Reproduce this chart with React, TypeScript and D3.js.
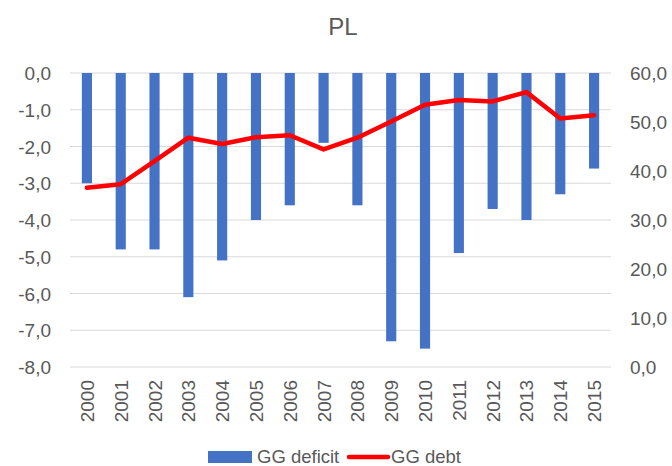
import React from "react";
import * as d3 from "d3";

const years = ["2000","2001","2002","2003","2004","2005","2006","2007","2008","2009","2010","2011","2012","2013","2014","2015"];
const ggDeficit = [-3.0,-4.8,-4.8,-6.1,-5.1,-4.0,-3.6,-1.9,-3.6,-7.3,-7.5,-4.9,-3.7,-4.0,-3.3,-2.6];
const ggDebt = [36.6,37.3,42.0,46.8,45.5,46.9,47.3,44.4,46.8,50.1,53.5,54.5,54.2,56.1,50.7,51.4];
const leftTicks = [0,-1,-2,-3,-4,-5,-6,-7,-8];
const rightTicks = [0,10,20,30,40,50,60];
const title = "PL";
const seriesNames = ["GG deficit", "GG debt"];

const W = 672, H = 466;
const M = { left: 70, right: 611, top: 73, bottom: 367 };
const font = "'Liberation Sans', Arial, sans-serif";
const txt = "#595959";
const fmt = (v: number) => d3.format(".1f")(v).replace(".", ",").replace("−", "-");

export default function App() {
  const x = d3.scaleBand<string>().domain(years).range([M.left, M.right]).paddingInner(0.7).paddingOuter(0.35);
  const xc = d3.scaleBand<string>().domain(years).range([M.left, M.right]);
  const yL = d3.scaleLinear().domain([-8, 0]).range([M.bottom, M.top]);
  const yR = d3.scaleLinear().domain([0, 60]).range([M.bottom, M.top]);
  const line = d3.line<number>()
    .x((_, i) => (xc(years[i]) as number) + xc.bandwidth() / 2)
    .y((d) => yR(d));
  return (
    <svg width={W} height={H} style={{ position: "absolute", left: 0, top: 0, background: "#fff" }}>
      <text x={343} y={35} textAnchor="middle" fontFamily={font} fontSize={24} fill={txt}>{title}</text>
      {leftTicks.map((t) => (
        <g key={"l" + t}>
          <line x1={M.left} x2={M.right} y1={yL(t)} y2={yL(t)} stroke="#D9D9D9" strokeWidth={1} />
          <text x={51} y={yL(t) + 7} textAnchor="end" fontFamily={font} fontSize={19} fill={txt}>{fmt(t)}</text>
        </g>
      ))}
      {rightTicks.map((t) => (
        <text key={"r" + t} x={630} y={yR(t) + 7} textAnchor="start" fontFamily={font} fontSize={19} fill={txt}>{fmt(t)}</text>
      ))}
      {ggDeficit.map((v, i) => (
        <rect key={years[i]} x={x(years[i])} y={yL(0)} width={x.bandwidth()} height={yL(v) - yL(0)} fill="#4472C4" />
      ))}
      <path d={line(ggDebt) || ""} fill="none" stroke="#FF0000" strokeWidth={4.5} strokeLinejoin="round" strokeLinecap="round" />
      {years.map((yr) => {
        const cx = (xc(yr) as number) + xc.bandwidth() / 2;
        return (
          <text key={"t" + yr} transform={`translate(${cx + 7},380) rotate(-90)`} textAnchor="end" fontFamily={font} fontSize={19} fill={txt}>{yr}</text>
        );
      })}
      <rect x={208} y={451} width={44} height={12} fill="#4472C4" />
      <text x={257} y={463} fontFamily={font} fontSize={18.5} fill={txt}>{seriesNames[0]}</text>
      <line x1={349} x2={388} y1={457} y2={457} stroke="#FF0000" strokeWidth={4.5} strokeLinecap="round" />
      <text x={391} y={463} fontFamily={font} fontSize={18.5} fill={txt}>{seriesNames[1]}</text>
    </svg>
  );
}
